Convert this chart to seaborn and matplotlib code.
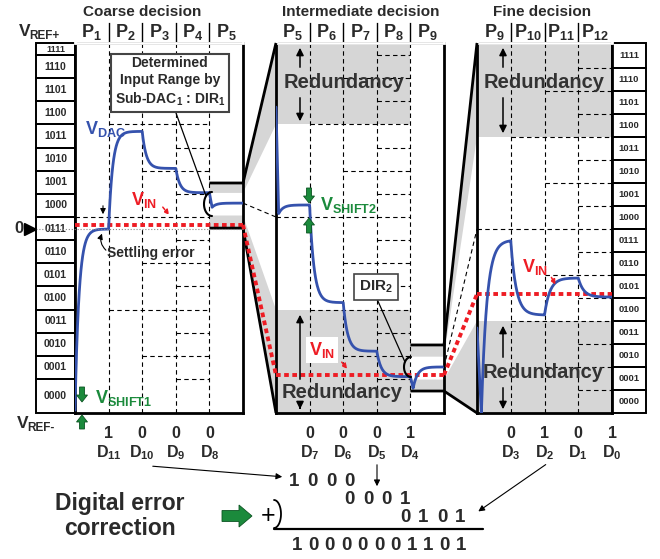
import numpy as np
import pandas as pd
import seaborn as sns
import matplotlib
matplotlib.use("Agg")
import matplotlib.pyplot as plt
from matplotlib.patches import Rectangle, Polygon, FancyArrow
from matplotlib.transforms import blended_transform_factory

# ---------------- data ----------------
codes = [format(c, '04b') for c in range(16)]

coarse_phases = ['P$_1$', 'P$_2$', 'P$_3$', 'P$_4$', 'P$_5$']
inter_phases = ['P$_5$', 'P$_6$', 'P$_7$', 'P$_8$', 'P$_9$']
fine_phases = ['P$_9$', 'P$_{10}$', 'P$_{11}$', 'P$_{12}$']

coarse_bits = ['1', '0', '0', '0']
coarse_names = ['D$_{11}$', 'D$_{10}$', 'D$_9$', 'D$_8$']
inter_bits = ['0', '0', '0', '1']
inter_names = ['D$_7$', 'D$_6$', 'D$_5$', 'D$_4$']
fine_bits = ['0', '1', '0', '1']
fine_names = ['D$_3$', 'D$_2$', 'D$_1$', 'D$_0$']

# V_DAC settling target of every phase (in LSB of each panel)
coarse_start = -0.35
coarse_levels = [7.48, 11.7, 10.1, 9.05, 8.6]
coarse_kicks = [None, None, None, None, 8.42]
inter_start = 12.75
inter_levels = [8.52, 4.3, 2.2, 1.1, 1.52]
inter_kicks = [8.15, None, None, None, 0.6]
fine_start = 3.7
fine_levels = [7.52, 4.26, 5.87, 5.04]
fine_kicks = [0.0, None, None, None]

vin_coarse = 7.66
vin_inter = 1.17
vin_fine = 5.17

ylim_coarse = (-0.47, 15.52)
ylim_fine = (0.0, 16.09)
coarse_window = (7.52, 9.47)   # part of coarse range shown by intermediate
inter_window = (0.48, 2.47)    # part of intermediate range shown by fine
inter_redundancy = [(-0.47, 4.0), (12.0, 15.52)]
fine_redundancy = [(0.0, 4.0), (12.0, 16.09)]

sum_rows = ['1000', '0001', '0101']
sum_shift = [0, 3, 6]
sum_result = '10000001101'

BLUE = '#3552ad'
RED = '#ee1c24'
GREEN = '#1b8a3c'
GRAY = '#d6d6d6'
DARK = '#2a2a2a'

# ---------------- style ----------------
sns.set_style('white')
plt.rcParams['font.family'] = ['Liberation Sans', 'DejaVu Sans']
plt.rcParams['font.weight'] = 'bold'
plt.rcParams['mathtext.fontset'] = 'custom'
for k in ['rm', 'it', 'bf', 'sf']:
    plt.rcParams['mathtext.' + k] = 'Liberation Sans:bold'

fig = plt.figure(figsize=(6.6, 5.59), dpi=100)
W, H = 660, 559


def box(x0, x1, y0, y1):
    return [x0 / W, 1 - y1 / H, (x1 - x0) / W, (y1 - y0) / H]


bg = fig.add_axes([0, 0, 1, 1], zorder=0)
top = fig.add_axes([0, 0, 1, 1], zorder=5)
for a in (bg, top):
    a.set_xlim(0, W)
    a.set_ylim(H, 0)
    a.axis('off')
    a.patch.set_alpha(0)

axc = fig.add_axes(box(75, 243, 43, 413), zorder=2)
axi = fig.add_axes(box(276, 444, 43, 413), zorder=2)
axf = fig.add_axes(box(477, 612, 43, 413), zorder=2)


def vdac(start, levels, kicks, tau, dt, n=80):
    t, v = [0.0], [start]
    cur = start
    for k, (lev, kick) in enumerate(zip(levels, kicks)):
        if kick is None:
            s = np.linspace(0, 1, n)[1:]
            seg = lev + (cur - lev) * np.exp(-s / tau)
        else:
            s = np.linspace(dt, 1, n)
            seg = lev + (kick - lev) * np.exp(-(s - dt) / tau)
        t.extend(k + s)
        v.extend(seg)
        cur = seg[-1]
    return pd.DataFrame({'t': t, 'v': v})


def grid(ax, xmax):
    for i in range(1, xmax):
        ax.axvline(i, color='k', lw=0.8, ls=(0, (4, 3)), zorder=1)
    for v in range(1, 16):
        if v == 8:
            x0 = 0
        elif v % 4 == 0:
            x0 = 1
        elif v % 2 == 0:
            x0 = 2
        else:
            x0 = 3
        ax.plot([x0, 4], [v, v], color='k', lw=0.8, ls=(0, (4, 3)), zorder=1)


def header(ax, labels):
    tr = blended_transform_factory(ax.transData, ax.transAxes)
    h = 22 / 370
    n = len(labels)
    ax.add_patch(Rectangle((0, 1), n, h, transform=tr, fill=False, lw=2,
                           clip_on=False, zorder=5))
    for i, lab in enumerate(labels):
        if i:
            ax.plot([i, i], [1, 1 + h], transform=tr, color='k', lw=1,
                    clip_on=False)
        ax.text(i + 0.5, 1 + h / 2, lab, transform=tr, ha='center',
                va='center', fontsize=13, color=DARK)


def code_column(ax, x0, x1, ylim, fs):
    for c, lab in enumerate(codes):
        lo = ylim[0] if c == 0 else c
        hi = ylim[1] if c == 15 else c + 1
        ax.add_patch(Rectangle((x0, lo), x1 - x0, hi - lo, fill=False, lw=1.4,
                               ec='k', clip_on=False))
        ax.text((x0 + x1) / 2, (lo + hi) / 2, lab, ha='center', va='center',
                fontsize=fs if hi - lo > 0.7 else fs - 1, color=DARK,
                clip_on=False)


panels = [
    (axc, 5, ylim_coarse, coarse_phases,
     vdac(coarse_start, coarse_levels, coarse_kicks, 0.12, 0.08), vin_coarse),
    (axi, 5, ylim_coarse, inter_phases,
     vdac(inter_start, inter_levels, inter_kicks, 0.13, 0.08), vin_inter),
    (axf, 4, ylim_fine, fine_phases,
     vdac(fine_start, fine_levels, fine_kicks, 0.16, 0.13), vin_fine),
]

for ax, ncol, ylim, phases, df, vin in panels:
    ax.set_facecolor('none')
    ax.set_xlim(0, ncol)
    ax.set_ylim(*ylim)
    grid(ax, ncol)
    sns.lineplot(data=df, x='t', y='v', ax=ax, color=BLUE, lw=2,
                 sort=False, estimator=None, zorder=4)
    ax.plot([0, ncol], [vin, vin], color=RED, lw=2.8, ls=(0, (1.2, 0.9)),
            zorder=3)
    ax.set(xlabel='', ylabel='', xticks=[], yticks=[])
    for sp in ax.spines.values():
        sp.set_visible(True)
        sp.set_linewidth(2)
        sp.set_color('k')
    header(ax, phases)

for lo, hi in inter_redundancy:
    axi.fill_between([0, 4], lo, hi, color=GRAY, lw=0, zorder=0)
for lo, hi in fine_redundancy:
    axf.fill_between([0, 4], lo, hi, color=GRAY, lw=0, zorder=0)

code_column(axc, -39 / 33.6, 0, ylim_coarse, 7.5)
code_column(axf, 4, 4 + 34 / 33.75, ylim_fine, 6.8)


def px(ax, x, y):
    return bg.transData.inverted().transform(ax.transData.transform((x, y)))


# zoom connectors between panels
def connect(src, tgt, window, tylim, bands, tgt_level, src_level):
    def m(v):
        return window[0] + (v - tylim[0]) / (tylim[1] - tylim[0]) * (window[1] - window[0])
    for lo, hi in bands:
        pts = [px(src, 4, m(lo)), px(src, 5, m(lo)), px(tgt, 0, lo),
               px(tgt, 0, hi), px(src, 5, m(hi)), px(src, 4, m(hi))]
        bg.add_patch(Polygon(pts, closed=True, fc=GRAY, ec='none'))
    for w, ty in [(window[1], tylim[1]), (window[0], tylim[0])]:
        p = np.array([px(src, 4, w), px(src, 5, w), px(tgt, 0, ty)])
        top.plot(p[:, 0], p[:, 1], color='k', lw=2, solid_capstyle='butt')
    p = np.array([px(src, 5, src_level), px(tgt, 0, tgt_level)])
    top.plot(p[:, 0], p[:, 1], color='k', lw=0.8, ls=(0, (4, 3)))


connect(axc, axi, coarse_window, ylim_coarse, inter_redundancy, 8, coarse_levels[-1])
connect(axi, axf, inter_window, ylim_fine, fine_redundancy, 8, inter_levels[-1])

for src, tgt, a, b in [(axc, axi, vin_coarse, vin_inter), (axi, axf, vin_inter, vin_fine)]:
    p = np.array([px(src, 5, a), px(tgt, 0, b)])
    top.plot(p[:, 0], p[:, 1], color=RED, lw=2.8, ls=(0, (1.2, 0.9)))

# 0 marker and dotted mid line
p = np.array([px(axc, -39 / 33.6, 7.5), px(axc, 5, 7.5)])
top.plot([30, p[1, 0]], p[:, 1], color='#888', lw=0.8, ls=':')
top.text(19, p[0, 1], '0', ha='center', va='center', fontsize=12, color=DARK)
top.plot([30], [p[0, 1]], marker='>', color='k', ms=8)

# titles
top.text(142, 12, 'Coarse decision', ha='center', va='center', fontsize=11, color=DARK)
top.text(361, 12, 'Intermediate decision', ha='center', va='center', fontsize=11, color=DARK)
top.text(542, 12, 'Fine decision', ha='center', va='center', fontsize=11, color=DARK)
top.text(19, 32, 'V', ha='left', va='center', fontsize=12.5, color=DARK)
top.text(29.5, 36, 'REF+', ha='left', va='center', fontsize=8.5, color=DARK)
top.text(17, 424, 'V', ha='left', va='center', fontsize=12.5, color=DARK)
top.text(27.5, 428, 'REF-', ha='left', va='center', fontsize=8.5, color=DARK)

# bits and names
for ax, bits, names in [(axc, coarse_bits, coarse_names), (axi, inter_bits, inter_names),
                        (axf, fine_bits, fine_names)]:
    for i, (b, nm) in enumerate(zip(bits, names)):
        x = px(ax, i + 1, 0)[0]
        top.text(x, 433, b, ha='center', va='center', fontsize=11.5, color=DARK)
        top.text(x, 453, nm, ha='center', va='center', fontsize=11.5, color=DARK)

# annotation box DIR1
top.text(170, 82, 'Determined\nInput Range by\nSub-DAC$_1$ : DIR$_1$', ha='center',
         va='center', fontsize=10, linespacing=1.25, color=DARK,
         bbox=dict(boxstyle='square,pad=0.3', fc='white', ec='#444', lw=1.5))
top.plot([176, 206], [113, 196], color='k', lw=0.9)
th = np.linspace(-np.pi / 2, np.pi / 2, 30)
top.plot(212 - 8 * np.cos(th), 204 + 12 * np.sin(th), color='k', lw=1.5)

# DIR2
top.text(376, 287, 'DIR$_2$', ha='center', va='center', fontsize=11, color=DARK,
         bbox=dict(boxstyle='square,pad=0.3', fc='white', ec='#444', lw=1.2))
top.plot([377, 405], [299, 362], color='k', lw=0.9)
top.plot(411 - 7 * np.cos(th), 367 + 10 * np.sin(th), color='k', lw=1.5)

# labels
top.text(85, 129, r'V$_{\mathrm{DAC}}$', ha='left', va='center', fontsize=13, color=BLUE)
top.text(131, 200, r'V$_{\mathrm{IN}}$', ha='left', va='center', fontsize=13, color=RED)
top.text(309, 350, r'V$_{\mathrm{IN}}$', ha='left', va='center', fontsize=13, color=RED,
         bbox=dict(boxstyle='square,pad=0.15', fc='white', ec='none'))
top.text(522, 267, r'V$_{\mathrm{IN}}$', ha='left', va='center', fontsize=13, color=RED)
top.text(95, 398, r'V$_{\mathrm{SHIFT1}}$', ha='left', va='center', fontsize=13, color=GREEN)
top.text(320, 205, r'V$_{\mathrm{SHIFT2}}$', ha='left', va='center', fontsize=13, color=GREEN)
for xy, xyt in [((171, 217), (161, 205)), ((349, 371), (340, 360)), ((557, 287), (550, 275))]:
    top.annotate('', xy=xy, xytext=xyt,
                 arrowprops=dict(arrowstyle='-|>', color=RED, lw=1.1, ls=(0, (2, 1.2)),
                                 mutation_scale=7))

# settling error
top.text(107, 253, 'Settling error', ha='left', va='center', fontsize=10, color=DARK)
top.annotate('', xy=(103, 217), xytext=(103, 203),
             arrowprops=dict(arrowstyle='-|>', color='k', lw=0.8, mutation_scale=8))
top.annotate('', xy=(103, 231), xytext=(108, 252),
             arrowprops=dict(arrowstyle='-|>', color='k', lw=0.8, mutation_scale=8,
                             connectionstyle='arc3,rad=-0.4'))

# redundancy
red_txt = [(344, 82), (342, 393), (544, 82), (543, 372)]
for x, y in red_txt:
    top.text(x, y, 'Redundancy', ha='center', va='center', fontsize=14.5, color='#333')
for x, y0, y1 in [(300, 70, 45), (300, 95, 124), (300, 382, 312), (300, 405, 412),
                  (503, 70, 45), (503, 95, 136), (503, 360, 323), (503, 385, 412)]:
    top.annotate('', xy=(x, y1), xytext=(x, y0),
                 arrowprops=dict(arrowstyle='-|>', color='k', lw=1.1, mutation_scale=11))


# green shift arrows
def block_arrow(x, y, dx, dy, w, hw, hl):
    top.add_patch(FancyArrow(x, y, dx, dy, width=w, head_width=hw, head_length=hl,
                             length_includes_head=True, fc=GREEN, ec='#0c5422', lw=0.6))


block_arrow(82, 387, 0, 15, 5, 11, 7)
block_arrow(82, 429, 0, -14, 5, 11, 7)
block_arrow(309, 188, 0, 15, 5, 11, 7)
block_arrow(309, 233, 0, -15, 5, 11, 7)

# digital error correction
top.text(120, 516, 'Digital error\ncorrection', ha='center', va='center', fontsize=16.5,
         linespacing=1.1, color=DARK)
block_arrow(222, 516, 30, 0, 11, 22, 13)
top.text(268, 516, '+', ha='center', va='center', fontsize=18, fontweight='normal', color='k')
top.plot(274 + 7 * np.cos(th), 514 + 14 * np.sin(th), color='k', lw=1.3)
top.plot([274, 483], [528.5, 528.5], color='k', lw=1.6)
for row, sh, y in zip(sum_rows, sum_shift, [482, 499, 517]):
    for j, d in enumerate(row):
        top.text(294 + 18.5 * (sh + j), y, d, ha='center', va='center', fontsize=13.5,
                 color=DARK)
for j, d in enumerate(sum_result):
    top.text(297 + 16.4 * j, 546, d, ha='center', va='center', fontsize=13.5, color=DARK)
for xy, xyt in [((285, 477), (150, 466)), ((377, 489), (377, 462)), ((476, 513), (548, 463))]:
    top.annotate('', xy=xy, xytext=xyt,
                 arrowprops=dict(arrowstyle='-|>', color='k', lw=0.8, mutation_scale=9))

fig.savefig('out.png', dpi=100)
